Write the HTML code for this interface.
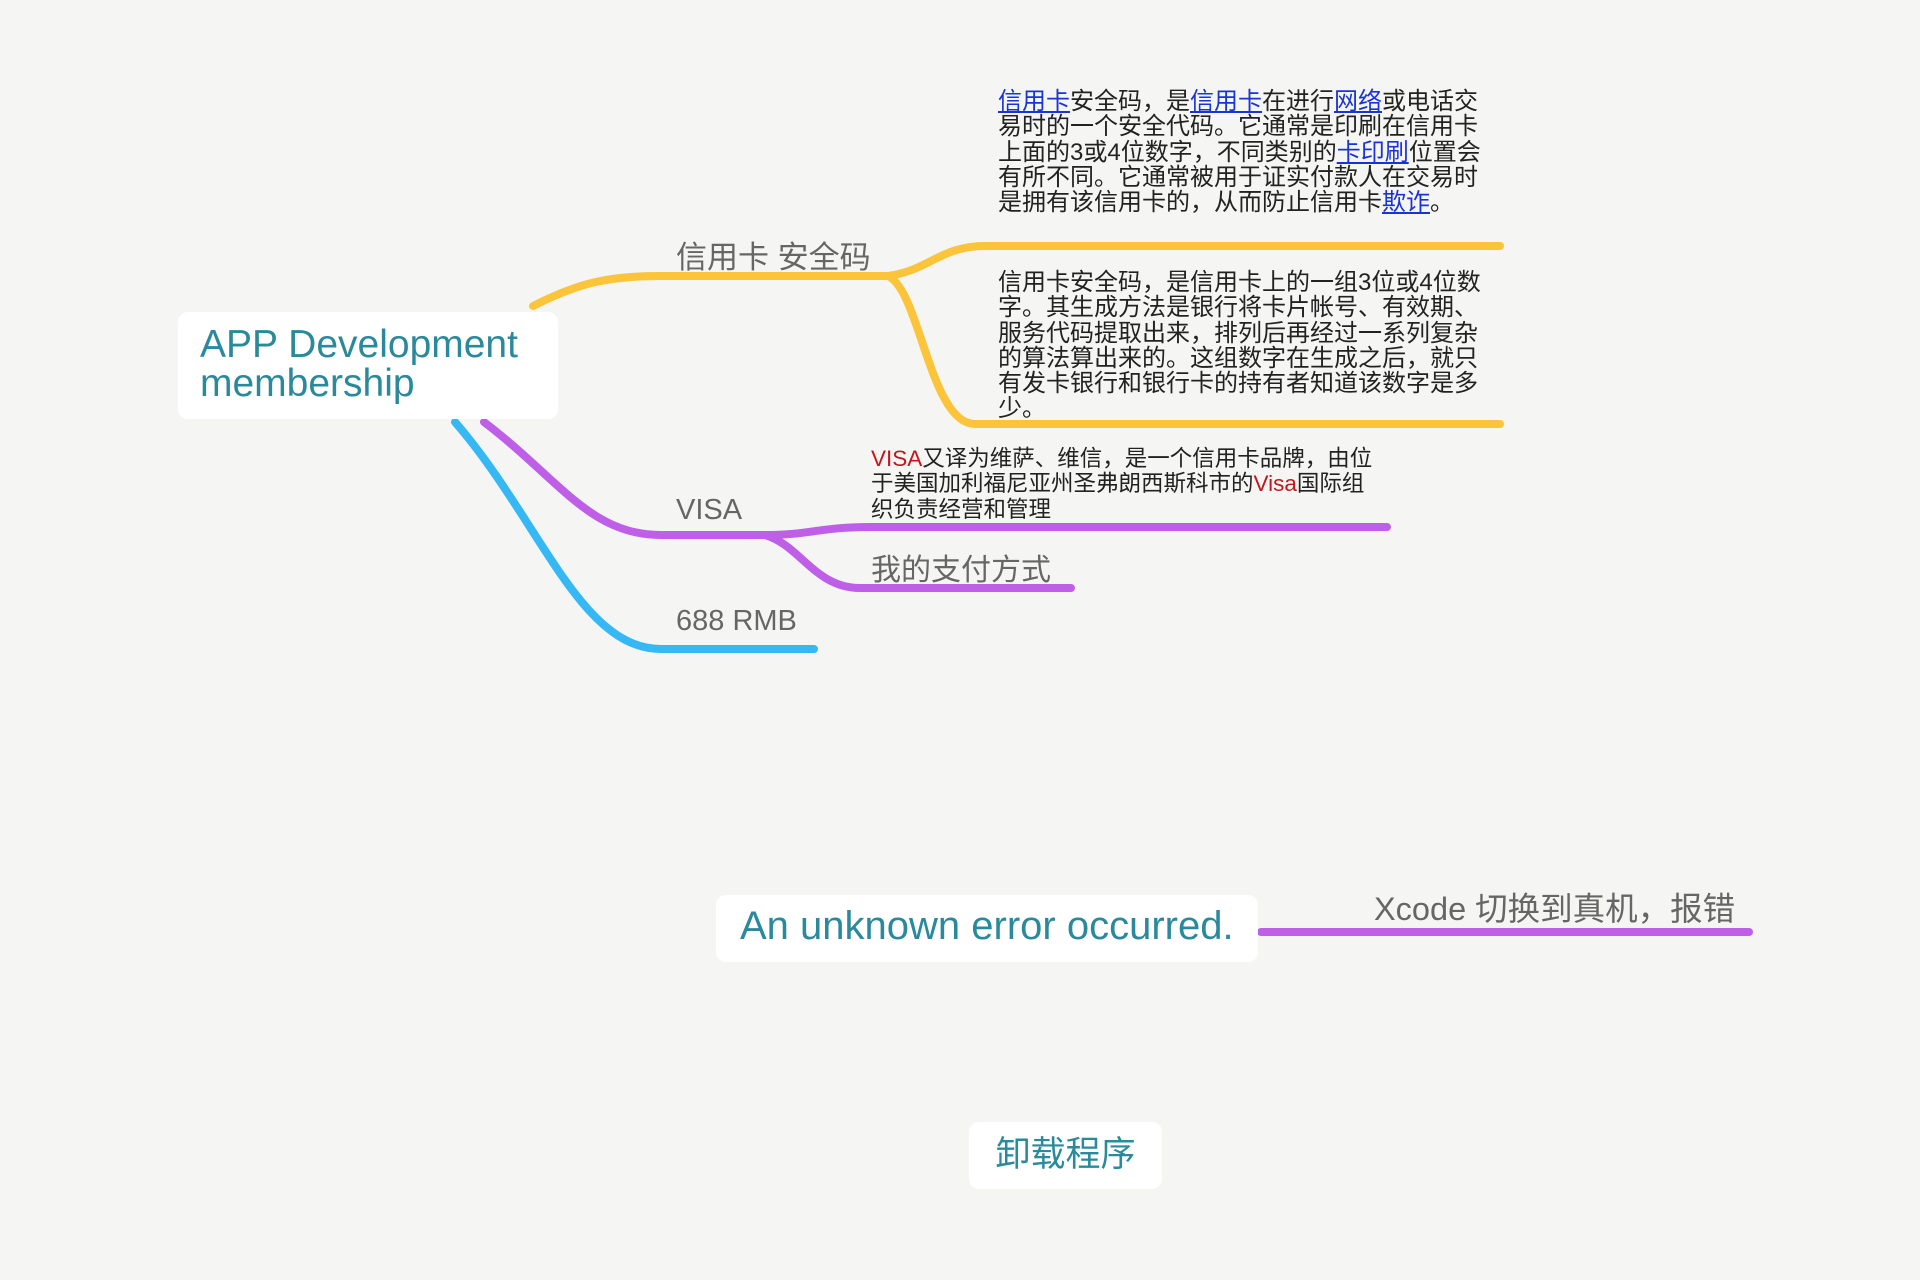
<!DOCTYPE html>
<html><head><meta charset="utf-8"><style>
html,body{margin:0;padding:0;background:#f5f6f4;}
body{width:1920px;height:1280px;position:relative;overflow:hidden;font-family:"Liberation Sans","Noto Sans CJK SC",sans-serif;}
.box{position:absolute;background:#fff;border-radius:10px;}
.t{position:absolute;white-space:nowrap;}
.teal{color:#2a8a9c;}
.lbl{color:#666;font-size:29px;}
.para{position:absolute;font-size:24px;line-height:25.3px;color:#222;white-space:nowrap;}
.para a{color:#1a33d6;text-decoration:underline;}
.red{color:#c4161c;}
</style></head><body>
<svg width="1920" height="1280" style="position:absolute;left:0;top:0" fill="none" stroke-linecap="round">
<g stroke="#fcc43a" stroke-width="8">
<path d="M533 306 C580 282 610 276 661 276 L888 276"/>
<path d="M888 276 C930 270 940 246 985 246 L1500 246"/>
<path d="M888 276 C920 290 930 424 975 424 L1500 424"/>
</g>
<g stroke="#bf5fe8" stroke-width="8">
<path d="M484 422 C560 480 590 535 661 535 L765 535"/>
<path d="M765 535 C810 535 820 527 870 527 L1387 527"/>
<path d="M765 535 C800 545 815 588 860 588 L1071 588"/>
<path d="M1261 932 L1749 932"/>
</g>
<g stroke="#36b8f5" stroke-width="8">
<path d="M455 422 C540 520 580 649 661 649 L814 649"/>
</g>
</svg>
<div class="box" style="left:178px;top:312px;width:380px;height:107px"></div>
<div class="t teal" style="left:200px;top:325px;font-size:39px;line-height:39px">APP Development<br>membership</div>

<div class="t lbl" style="left:676px;top:232px;font-size:31px">信用卡 安全码</div>
<div class="para" style="left:998px;top:89px">
<a>信用卡</a>安全码，是<a>信用卡</a>在进行<a>网络</a>或电话交<br>易时的一个安全代码。它通常是印刷在信用卡<br>上面的3或4位数字，不同类别的<a>卡印刷</a>位置会<br>有所不同。它通常被用于证实付款人在交易时<br>是拥有该信用卡的，从而防止信用卡<a>欺诈</a>。</div>
<div class="para" style="left:998px;top:270px">信用卡安全码，是信用卡上的一组3位或4位数<br>字。其生成方法是银行将卡片帐号、有效期、<br>服务代码提取出来，排列后再经过一系列复杂<br>的算法算出来的。这组数字在生成之后，就只<br>有发卡银行和银行卡的持有者知道该数字是多<br>少。</div>

<div class="t lbl" style="left:676px;top:494px">VISA</div>
<div class="para" style="left:871px;top:446px;font-size:22.5px"><span class="red">VISA</span>又译为维萨、维信，是一个信用卡品牌，由位<br>于美国加利福尼亚州圣弗朗西斯科市的<span class="red">Visa</span>国际组<br>织负责经营和管理</div>
<div class="t lbl" style="left:871px;top:545px;font-size:30px">我的支付方式</div>
<div class="t lbl" style="left:676px;top:605px">688 RMB</div>

<div class="box" style="left:716px;top:895px;width:542px;height:67px"></div>
<div class="t teal" style="left:740px;top:903px;font-size:40px;line-height:46px">An unknown error occurred.</div>
<div class="t lbl" style="left:1374px;top:883px;font-size:32.5px">Xcode 切换到真机，报错</div>

<div class="box" style="left:969px;top:1122px;width:193px;height:67px"></div>
<div class="t teal" style="left:969px;top:1132px;width:193px;text-align:center;font-size:35px;line-height:46px">卸载程序</div>
</body></html>
